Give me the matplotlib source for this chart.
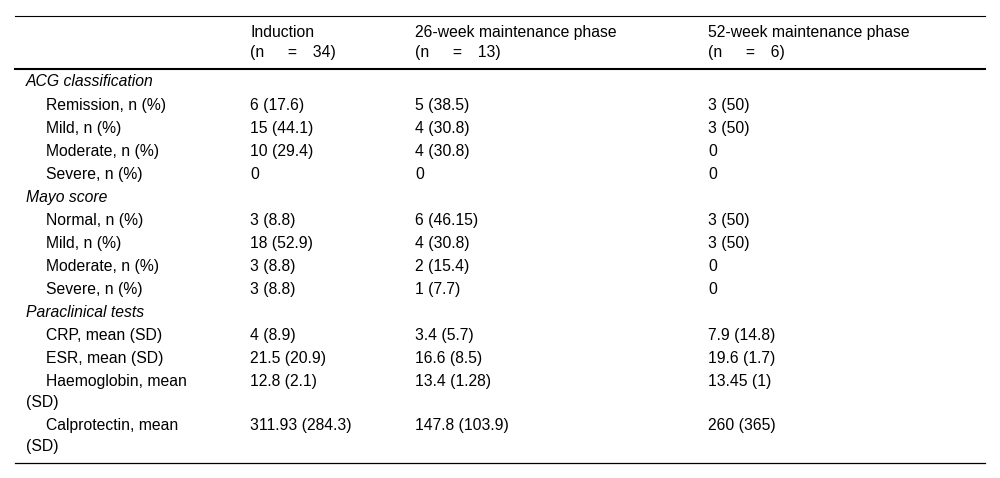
import matplotlib.pyplot as plt

plt.rcParams['font.family'] = ['Liberation Sans', 'DejaVu Sans']

# table content
col_heads = ['Induction\n(n\u2003\u2002=\u200334)', '26-week maintenance phase\n(n\u2003\u2002=\u200313)',
             '52-week maintenance phase\n(n\u2003\u2002=\u20036)']
sections = ['ACG classification', 'Mayo score', 'Paraclinical tests']
row_labels = [
    ['Remission, n (%)', 'Mild, n (%)', 'Moderate, n (%)', 'Severe, n (%)'],
    ['Normal, n (%)', 'Mild, n (%)', 'Moderate, n (%)', 'Severe, n (%)'],
    ['CRP, mean (SD)', 'ESR, mean (SD)', 'Haemoglobin, mean\n(SD)', 'Calprotectin, mean\n(SD)'],
]
induction = [['6 (17.6)', '15 (44.1)', '10 (29.4)', '0'],
             ['3 (8.8)', '18 (52.9)', '3 (8.8)', '3 (8.8)'],
             ['4 (8.9)', '21.5 (20.9)', '12.8 (2.1)', '311.93 (284.3)']]
week26 = [['5 (38.5)', '4 (30.8)', '4 (30.8)', '0'],
          ['6 (46.15)', '4 (30.8)', '2 (15.4)', '1 (7.7)'],
          ['3.4 (5.7)', '16.6 (8.5)', '13.4 (1.28)', '147.8 (103.9)']]
week52 = [['3 (50)', '3 (50)', '0', '0'],
          ['3 (50)', '3 (50)', '0', '0'],
          ['7.9 (14.8)', '19.6 (1.7)', '13.45 (1)', '260 (365)']]

W, H = 1000, 478
fig = plt.figure(figsize=(W / 100, H / 100), dpi=100)
ax = fig.add_axes([0, 0, 1, 1])
ax.set_xlim(0, W)
ax.set_ylim(H, 0)
ax.axis('off')

fs = 11.3
col_x = [250, 415, 708]
row_h = 23
wrap_h = 21


def cell(x, yb, txt, **kw):
    # yb is the baseline, nudged off the pixel edge so rows don't jitter
    ax.text(x, yb + 0.3, txt, fontsize=fs, va='baseline', ha='left', **kw)


# rules
ax.plot([15, 985], [15.5, 15.5], color='black', lw=0.8)
ax.plot([15, 985], [69, 69], color='black', lw=1.5)
ax.plot([15, 985], [463, 463], color='black', lw=0.9)

for x, head in zip(col_x, col_heads):
    for k, part in enumerate(head.split('\n')):
        cell(x, 37 + k * 20, part)

y = 86
for s, sec in enumerate(sections):
    cell(26, y, sec, style='italic')
    y += row_h + (1 if s == 0 else 0)
    for r, lab in enumerate(row_labels[s]):
        parts = lab.split('\n')
        cell(46, y, parts[0])
        for x, vals in zip(col_x, [induction, week26, week52]):
            cell(x, y, vals[s][r])
        if len(parts) > 1:
            cell(26, y + wrap_h, parts[1])
            y += wrap_h
        y += row_h

fig.savefig('out.png', dpi=100)
